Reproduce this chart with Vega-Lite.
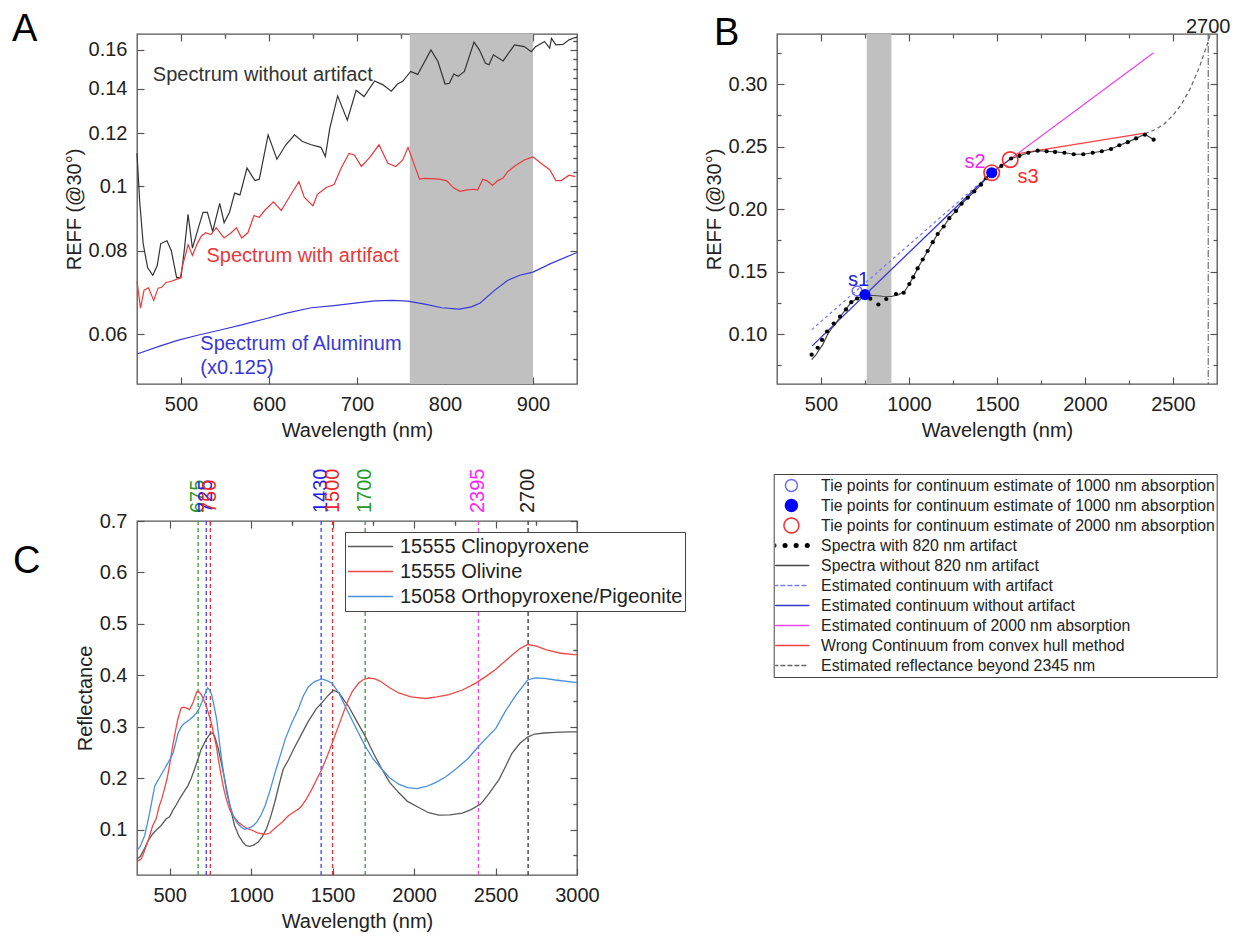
{
"$schema": "https://vega.github.io/schema/vega-lite/v6.json",
"autosize": {"type": "pad"},
"padding": {"left": 11, "top": 10, "right": 5, "bottom": 5},
"background": "white",
"bounds": "flush",
"columns": 2,
"spacing": {"row": 137, "column": 200},
"resolve": {"scale": {"color": "independent", "stroke": "independent", "fill": "independent"}, "legend": {"color": "independent", "stroke": "independent", "fill": "independent"}},
"config": {
 "view": {"stroke": "#555", "strokeWidth": 1.3},
 "font": "Liberation Sans",
 "text": {"font": "Liberation Sans"},
 "axis": {"labelFont": "Liberation Sans", "labelFontSize": 20, "labelColor": "#222", "titleFont": "Liberation Sans", "titleFontSize": 20, "titleFontWeight": "normal", "titleColor": "#222", "domain": false, "grid": false, "tickColor": "#555", "tickSize": -7, "tickWidth": 1.2, "labelPadding": 17, "labelFlush": false, "labelOverlap": false},
 "axisX": {"titlePadding": 6},
 "axisY": {"titlePadding": 4},
 "title": {"font": "Liberation Sans", "fontSize": 38, "fontWeight": "normal", "anchor": "start", "frame": "group", "color": "#000", "baseline": "bottom"},
 "legend": {"labelFont": "Liberation Sans", "labelColor": "#222", "labelLimit": 600}
},
"datasets": {
 "A": [
  {"s":"without","w":450,"v":0.112},{"s":"without","w":453,"v":0.095},{"s":"without","w":457,"v":0.082},{"s":"without","w":462,"v":0.0755},{"s":"without","w":468,"v":0.0735},{"s":"without","w":473,"v":0.076},{"s":"without","w":477,"v":0.082},{"s":"without","w":484,"v":0.0828},{"s":"without","w":489,"v":0.08},{"s":"without","w":495,"v":0.0729},{"s":"without","w":500,"v":0.0729},{"s":"without","w":504,"v":0.0807},{"s":"without","w":508,"v":0.0907},{"s":"without","w":513,"v":0.0807},{"s":"without","w":520,"v":0.0868},{"s":"without","w":525,"v":0.0913},{"s":"without","w":530,"v":0.0913},{"s":"without","w":536,"v":0.0855},{"s":"without","w":544,"v":0.0942},{"s":"without","w":549,"v":0.0881},{"s":"without","w":555,"v":0.0913},{"s":"without","w":561,"v":0.0976},{"s":"without","w":567,"v":0.097},{"s":"without","w":575,"v":0.1064},{"s":"without","w":584,"v":0.1019},{"s":"without","w":589,"v":0.1024},{"s":"without","w":599,"v":0.1193},{"s":"without","w":609,"v":0.1097},{"s":"without","w":619,"v":0.1152},{"s":"without","w":629,"v":0.1193},{"s":"without","w":638,"v":0.1166},{"s":"without","w":648,"v":0.1153},{"s":"without","w":659,"v":0.1143},{"s":"without","w":664,"v":0.1107},{"s":"without","w":669,"v":0.1219},{"s":"without","w":678,"v":0.1365},{"s":"without","w":689,"v":0.1255},{"s":"without","w":699,"v":0.1392},{"s":"without","w":708,"v":0.1362},{"s":"without","w":720,"v":0.1437},{"s":"without","w":729,"v":0.1419},{"s":"without","w":739,"v":0.1387},{"s":"without","w":746,"v":0.1422},{"s":"without","w":752,"v":0.1435},{"s":"without","w":761,"v":0.1485},{"s":"without","w":769,"v":0.147},{"s":"without","w":784,"v":0.16},{"s":"without","w":792,"v":0.1537},{"s":"without","w":800,"v":0.1422},{"s":"without","w":805,"v":0.1426},{"s":"without","w":810,"v":0.1472},{"s":"without","w":815,"v":0.146},{"s":"without","w":822,"v":0.1485},{"s":"without","w":833,"v":0.1643},{"s":"without","w":839,"v":0.16},{"s":"without","w":846,"v":0.1528},{"s":"without","w":850,"v":0.152},{"s":"without","w":855,"v":0.1573},{"s":"without","w":866,"v":0.154},{"s":"without","w":875,"v":0.16},{"s":"without","w":879,"v":0.1628},{"s":"without","w":890,"v":0.1618},{"s":"without","w":898,"v":0.159},{"s":"without","w":903,"v":0.1618},{"s":"without","w":913,"v":0.1647},{"s":"without","w":919,"v":0.161},{"s":"without","w":921,"v":0.1665},{"s":"without","w":926,"v":0.1628},{"s":"without","w":934,"v":0.163},{"s":"without","w":941,"v":0.1656},{"s":"without","w":947,"v":0.1668},{"s":"without","w":950,"v":0.1672},
  {"s":"with","w":450,"v":0.072},{"s":"with","w":454,"v":0.0656},{"s":"with","w":458,"v":0.0698},{"s":"with","w":463,"v":0.0704},{"s":"with","w":469,"v":0.0674},{"s":"with","w":474,"v":0.0703},{"s":"with","w":478,"v":0.0705},{"s":"with","w":483,"v":0.0717},{"s":"with","w":489,"v":0.072},{"s":"with","w":494,"v":0.0724},{"s":"with","w":499,"v":0.0728},{"s":"with","w":502,"v":0.0762},{"s":"with","w":506,"v":0.0797},{"s":"with","w":508,"v":0.0817},{"s":"with","w":513,"v":0.0787},{"s":"with","w":518,"v":0.0817},{"s":"with","w":523,"v":0.0841},{"s":"with","w":528,"v":0.0851},{"s":"with","w":534,"v":0.0846},{"s":"with","w":540,"v":0.0866},{"s":"with","w":549,"v":0.0836},{"s":"with","w":557,"v":0.0851},{"s":"with","w":563,"v":0.0866},{"s":"with","w":569,"v":0.0836},{"s":"with","w":576,"v":0.0851},{"s":"with","w":583,"v":0.0903},{"s":"with","w":589,"v":0.0898},{"s":"with","w":595,"v":0.0919},{"s":"with","w":605,"v":0.0947},{"s":"with","w":614,"v":0.0919},{"s":"with","w":625,"v":0.0972},{"s":"with","w":634,"v":0.1015},{"s":"with","w":640,"v":0.0962},{"s":"with","w":650,"v":0.0934},{"s":"with","w":655,"v":0.0972},{"s":"with","w":665,"v":0.0995},{"s":"with","w":674,"v":0.1005},{"s":"with","w":682,"v":0.1064},{"s":"with","w":691,"v":0.1119},{"s":"with","w":697,"v":0.1113},{"s":"with","w":705,"v":0.107},{"s":"with","w":715,"v":0.1106},{"s":"with","w":725,"v":0.1153},{"s":"with","w":735,"v":0.1082},{"s":"with","w":744,"v":0.107},{"s":"with","w":752,"v":0.1094},{"s":"with","w":758,"v":0.1143},{"s":"with","w":771,"v":0.1024},{"s":"with","w":777,"v":0.1027},{"s":"with","w":794,"v":0.1024},{"s":"with","w":802,"v":0.1018},{"s":"with","w":810,"v":0.0993},{"s":"with","w":817,"v":0.0982},{"s":"with","w":824,"v":0.0986},{"s":"with","w":833,"v":0.0989},{"s":"with","w":837,"v":0.0986},{"s":"with","w":843,"v":0.1024},{"s":"with","w":848,"v":0.1018},{"s":"with","w":854,"v":0.1002},{"s":"with","w":860,"v":0.1019},{"s":"with","w":866,"v":0.1028},{"s":"with","w":871,"v":0.105},{"s":"with","w":879,"v":0.1071},{"s":"with","w":890,"v":0.1094},{"s":"with","w":900,"v":0.1106},{"s":"with","w":909,"v":0.1082},{"s":"with","w":919,"v":0.1058},{"s":"with","w":926,"v":0.1019},{"s":"with","w":932,"v":0.1019},{"s":"with","w":941,"v":0.1038},{"s":"with","w":948,"v":0.1033},
  {"s":"al","w":450,"v":0.056},{"s":"al","w":475,"v":0.0575},{"s":"al","w":496,"v":0.0587},{"s":"al","w":520,"v":0.0598},{"s":"al","w":546,"v":0.0609},{"s":"al","w":570,"v":0.062},{"s":"al","w":595,"v":0.0632},{"s":"al","w":620,"v":0.0645},{"s":"al","w":648,"v":0.0657},{"s":"al","w":674,"v":0.0662},{"s":"al","w":700,"v":0.0668},{"s":"al","w":720,"v":0.0673},{"s":"al","w":740,"v":0.0674},{"s":"al","w":758,"v":0.0672},{"s":"al","w":780,"v":0.0664},{"s":"al","w":796,"v":0.0657},{"s":"al","w":816,"v":0.0654},{"s":"al","w":830,"v":0.0659},{"s":"al","w":840,"v":0.0668},{"s":"al","w":856,"v":0.0697},{"s":"al","w":871,"v":0.0722},{"s":"al","w":885,"v":0.0735},{"s":"al","w":900,"v":0.0743},{"s":"al","w":920,"v":0.0765},{"s":"al","w":946,"v":0.0791},{"s":"al","w":950,"v":0.0795}
 ],
 "Atext": [
  {"s":"without","w":468,"v":0.1465,"label":"Spectrum without artifact"},
  {"s":"with","w":529,"v":0.0786,"label":"Spectrum with artifact"},
  {"s":"al","w":522,"v":0.058,"label":"Spectrum of Aluminum"},
  {"s":"al","w":522,"v":0.0534,"label":"(x0.125)"}
 ],
 "B": [
  {"series":"Spectra with 820 nm artifact","w":447,"r":0.0835},{"series":"Spectra with 820 nm artifact","w":481,"r":0.089},{"series":"Spectra with 820 nm artifact","w":506,"r":0.0953},{"series":"Spectra with 820 nm artifact","w":534,"r":0.102},{"series":"Spectra with 820 nm artifact","w":572,"r":0.1084},{"series":"Spectra with 820 nm artifact","w":608,"r":0.114},{"series":"Spectra with 820 nm artifact","w":642,"r":0.1197},{"series":"Spectra with 820 nm artifact","w":672,"r":0.1255},{"series":"Spectra with 820 nm artifact","w":705,"r":0.1285},{"series":"Spectra with 820 nm artifact","w":780,"r":0.1283},{"series":"Spectra with 820 nm artifact","w":826,"r":0.1236},{"series":"Spectra with 820 nm artifact","w":871,"r":0.128},{"series":"Spectra with 820 nm artifact","w":926,"r":0.132},{"series":"Spectra with 820 nm artifact","w":970,"r":0.133},{"series":"Spectra with 820 nm artifact","w":1002,"r":0.14},{"series":"Spectra with 820 nm artifact","w":1024,"r":0.1455},{"series":"Spectra with 820 nm artifact","w":1049,"r":0.1525},{"series":"Spectra with 820 nm artifact","w":1078,"r":0.1596},{"series":"Spectra with 820 nm artifact","w":1106,"r":0.1664},{"series":"Spectra with 820 nm artifact","w":1135,"r":0.1735},{"series":"Spectra with 820 nm artifact","w":1163,"r":0.18},{"series":"Spectra with 820 nm artifact","w":1197,"r":0.186},{"series":"Spectra with 820 nm artifact","w":1229,"r":0.1927},{"series":"Spectra with 820 nm artifact","w":1267,"r":0.1985},{"series":"Spectra with 820 nm artifact","w":1299,"r":0.2042},{"series":"Spectra with 820 nm artifact","w":1334,"r":0.209},{"series":"Spectra with 820 nm artifact","w":1371,"r":0.214},{"series":"Spectra with 820 nm artifact","w":1409,"r":0.2195},{"series":"Spectra with 820 nm artifact","w":1438,"r":0.2246},{"series":"Spectra with 820 nm artifact","w":1470,"r":0.229},{"series":"Spectra with 820 nm artifact","w":1525,"r":0.2345},{"series":"Spectra with 820 nm artifact","w":1580,"r":0.2404},{"series":"Spectra with 820 nm artifact","w":1627,"r":0.2425},{"series":"Spectra with 820 nm artifact","w":1678,"r":0.245},{"series":"Spectra with 820 nm artifact","w":1731,"r":0.2467},{"series":"Spectra with 820 nm artifact","w":1782,"r":0.2462},{"series":"Spectra with 820 nm artifact","w":1830,"r":0.2457},{"series":"Spectra with 820 nm artifact","w":1883,"r":0.245},{"series":"Spectra with 820 nm artifact","w":1936,"r":0.2438},{"series":"Spectra with 820 nm artifact","w":1990,"r":0.2438},{"series":"Spectra with 820 nm artifact","w":2044,"r":0.245},{"series":"Spectra with 820 nm artifact","w":2095,"r":0.2462},{"series":"Spectra with 820 nm artifact","w":2148,"r":0.248},{"series":"Spectra with 820 nm artifact","w":2195,"r":0.251},{"series":"Spectra with 820 nm artifact","w":2243,"r":0.2535},{"series":"Spectra with 820 nm artifact","w":2290,"r":0.2565},{"series":"Spectra with 820 nm artifact","w":2340,"r":0.2595},{"series":"Spectra with 820 nm artifact","w":2390,"r":0.2555},
  {"series":"Spectra without 820 nm artifact","w":447,"r":0.0795},{"series":"Spectra without 820 nm artifact","w":470,"r":0.083},{"series":"Spectra without 820 nm artifact","w":490,"r":0.0875},{"series":"Spectra without 820 nm artifact","w":510,"r":0.0915},{"series":"Spectra without 820 nm artifact","w":535,"r":0.099},{"series":"Spectra without 820 nm artifact","w":560,"r":0.1045},{"series":"Spectra without 820 nm artifact","w":580,"r":0.1075},{"series":"Spectra without 820 nm artifact","w":610,"r":0.114},{"series":"Spectra without 820 nm artifact","w":640,"r":0.1195},{"series":"Spectra without 820 nm artifact","w":670,"r":0.125},{"series":"Spectra without 820 nm artifact","w":700,"r":0.128},{"series":"Spectra without 820 nm artifact","w":750,"r":0.131},{"series":"Spectra without 820 nm artifact","w":800,"r":0.1308},{"series":"Spectra without 820 nm artifact","w":850,"r":0.1302},{"series":"Spectra without 820 nm artifact","w":900,"r":0.13},{"series":"Spectra without 820 nm artifact","w":940,"r":0.1315},{"series":"Spectra without 820 nm artifact","w":975,"r":0.134},{"series":"Spectra without 820 nm artifact","w":1002,"r":0.14},{"series":"Spectra without 820 nm artifact","w":1024,"r":0.1455},{"series":"Spectra without 820 nm artifact","w":1049,"r":0.1525},{"series":"Spectra without 820 nm artifact","w":1078,"r":0.1596},{"series":"Spectra without 820 nm artifact","w":1106,"r":0.1664},{"series":"Spectra without 820 nm artifact","w":1135,"r":0.1735},{"series":"Spectra without 820 nm artifact","w":1163,"r":0.18},{"series":"Spectra without 820 nm artifact","w":1197,"r":0.186},{"series":"Spectra without 820 nm artifact","w":1229,"r":0.1927},{"series":"Spectra without 820 nm artifact","w":1267,"r":0.1985},{"series":"Spectra without 820 nm artifact","w":1299,"r":0.2042},{"series":"Spectra without 820 nm artifact","w":1334,"r":0.209},{"series":"Spectra without 820 nm artifact","w":1371,"r":0.214},{"series":"Spectra without 820 nm artifact","w":1409,"r":0.2195},{"series":"Spectra without 820 nm artifact","w":1438,"r":0.2246},{"series":"Spectra without 820 nm artifact","w":1470,"r":0.229},{"series":"Spectra without 820 nm artifact","w":1525,"r":0.2345},{"series":"Spectra without 820 nm artifact","w":1580,"r":0.2404},{"series":"Spectra without 820 nm artifact","w":1627,"r":0.2425},{"series":"Spectra without 820 nm artifact","w":1678,"r":0.245},{"series":"Spectra without 820 nm artifact","w":1731,"r":0.2467},{"series":"Spectra without 820 nm artifact","w":1782,"r":0.2462},{"series":"Spectra without 820 nm artifact","w":1830,"r":0.2457},{"series":"Spectra without 820 nm artifact","w":1883,"r":0.245},{"series":"Spectra without 820 nm artifact","w":1936,"r":0.2438},{"series":"Spectra without 820 nm artifact","w":1990,"r":0.2438},{"series":"Spectra without 820 nm artifact","w":2044,"r":0.245},{"series":"Spectra without 820 nm artifact","w":2095,"r":0.2462},{"series":"Spectra without 820 nm artifact","w":2148,"r":0.248},{"series":"Spectra without 820 nm artifact","w":2195,"r":0.251},{"series":"Spectra without 820 nm artifact","w":2243,"r":0.2535},{"series":"Spectra without 820 nm artifact","w":2290,"r":0.2565},{"series":"Spectra without 820 nm artifact","w":2340,"r":0.2598},{"series":"Spectra without 820 nm artifact","w":2390,"r":0.2555},
  {"series":"Estimated continuum with artifact","w":447,"r":0.1035},{"series":"Estimated continuum with artifact","w":1470,"r":0.229},
  {"series":"Estimated continuum without artifact","w":450,"r":0.0905},{"series":"Estimated continuum without artifact","w":1470,"r":0.229},
  {"series":"Estimated continuum of 2000 nm absorption","w":1470,"r":0.229},{"series":"Estimated continuum of 2000 nm absorption","w":2390,"r":0.325},
  {"series":"Wrong Continuum from convex hull method","w":1620,"r":0.2443},{"series":"Wrong Continuum from convex hull method","w":2330,"r":0.2605},
  {"series":"Estimated reflectance beyond 2345 nm","w":2340,"r":0.2602},{"series":"Estimated reflectance beyond 2345 nm","w":2400,"r":0.2635},{"series":"Estimated reflectance beyond 2345 nm","w":2450,"r":0.268},{"series":"Estimated reflectance beyond 2345 nm","w":2500,"r":0.275},{"series":"Estimated reflectance beyond 2345 nm","w":2550,"r":0.284},{"series":"Estimated reflectance beyond 2345 nm","w":2600,"r":0.297},{"series":"Estimated reflectance beyond 2345 nm","w":2650,"r":0.3135},{"series":"Estimated reflectance beyond 2345 nm","w":2700,"r":0.334},{"series":"Estimated reflectance beyond 2345 nm","w":2725,"r":0.346},
  {"series":"Tie points for continuum estimate of 1000 nm absorption","w":705,"r":0.1345},
  {"series":"Tie points for continuum estimate of 1000 nm absorption ","w":750,"r":0.1315},{"series":"Tie points for continuum estimate of 1000 nm absorption ","w":1470,"r":0.229},
  {"series":"Tie points for continuum estimate of 2000 nm absorption","w":1470,"r":0.229},{"series":"Tie points for continuum estimate of 2000 nm absorption","w":1575,"r":0.2395}
 ],
 "C": [
  {"s":"15555 Clinopyroxene","w":300,"r":0.043},{"s":"15555 Clinopyroxene","w":320,"r":0.048},{"s":"15555 Clinopyroxene","w":345,"r":0.0627},{"s":"15555 Clinopyroxene","w":370,"r":0.08},{"s":"15555 Clinopyroxene","w":396,"r":0.0917},{"s":"15555 Clinopyroxene","w":420,"r":0.1},{"s":"15555 Clinopyroxene","w":447,"r":0.1078},{"s":"15555 Clinopyroxene","w":478,"r":0.1207},{"s":"15555 Clinopyroxene","w":500,"r":0.125},{"s":"15555 Clinopyroxene","w":519,"r":0.137},{"s":"15555 Clinopyroxene","w":540,"r":0.148},{"s":"15555 Clinopyroxene","w":560,"r":0.1595},{"s":"15555 Clinopyroxene","w":585,"r":0.172},{"s":"15555 Clinopyroxene","w":612,"r":0.1852},{"s":"15555 Clinopyroxene","w":633,"r":0.2},{"s":"15555 Clinopyroxene","w":653,"r":0.2175},{"s":"15555 Clinopyroxene","w":675,"r":0.238},{"s":"15555 Clinopyroxene","w":694,"r":0.2562},{"s":"15555 Clinopyroxene","w":725,"r":0.2756},{"s":"15555 Clinopyroxene","w":750,"r":0.287},{"s":"15555 Clinopyroxene","w":762,"r":0.288},{"s":"15555 Clinopyroxene","w":776,"r":0.282},{"s":"15555 Clinopyroxene","w":797,"r":0.26},{"s":"15555 Clinopyroxene","w":817,"r":0.2303},{"s":"15555 Clinopyroxene","w":838,"r":0.198},{"s":"15555 Clinopyroxene","w":858,"r":0.1658},{"s":"15555 Clinopyroxene","w":878,"r":0.135},{"s":"15555 Clinopyroxene","w":899,"r":0.1078},{"s":"15555 Clinopyroxene","w":925,"r":0.088},{"s":"15555 Clinopyroxene","w":950,"r":0.0755},{"s":"15555 Clinopyroxene","w":970,"r":0.069},{"s":"15555 Clinopyroxene","w":992,"r":0.0677},{"s":"15555 Clinopyroxene","w":1015,"r":0.07},{"s":"15555 Clinopyroxene","w":1043,"r":0.0755},{"s":"15555 Clinopyroxene","w":1070,"r":0.087},{"s":"15555 Clinopyroxene","w":1094,"r":0.1014},{"s":"15555 Clinopyroxene","w":1120,"r":0.125},{"s":"15555 Clinopyroxene","w":1145,"r":0.1529},{"s":"15555 Clinopyroxene","w":1170,"r":0.185},{"s":"15555 Clinopyroxene","w":1197,"r":0.2175},{"s":"15555 Clinopyroxene","w":1230,"r":0.236},{"s":"15555 Clinopyroxene","w":1260,"r":0.256},{"s":"15555 Clinopyroxene","w":1300,"r":0.28},{"s":"15555 Clinopyroxene","w":1350,"r":0.31},{"s":"15555 Clinopyroxene","w":1400,"r":0.335},{"s":"15555 Clinopyroxene","w":1434,"r":0.3464},{"s":"15555 Clinopyroxene","w":1470,"r":0.36},{"s":"15555 Clinopyroxene","w":1506,"r":0.371},{"s":"15555 Clinopyroxene","w":1540,"r":0.366},{"s":"15555 Clinopyroxene","w":1570,"r":0.352},{"s":"15555 Clinopyroxene","w":1598,"r":0.34},{"s":"15555 Clinopyroxene","w":1650,"r":0.31},{"s":"15555 Clinopyroxene","w":1700,"r":0.282},{"s":"15555 Clinopyroxene","w":1750,"r":0.249},{"s":"15555 Clinopyroxene","w":1803,"r":0.2175},{"s":"15555 Clinopyroxene","w":1850,"r":0.192},{"s":"15555 Clinopyroxene","w":1906,"r":0.1722},{"s":"15555 Clinopyroxene","w":1960,"r":0.155},{"s":"15555 Clinopyroxene","w":2029,"r":0.1432},{"s":"15555 Clinopyroxene","w":2090,"r":0.133},{"s":"15555 Clinopyroxene","w":2152,"r":0.1285},{"s":"15555 Clinopyroxene","w":2220,"r":0.129},{"s":"15555 Clinopyroxene","w":2296,"r":0.1324},{"s":"15555 Clinopyroxene","w":2350,"r":0.139},{"s":"15555 Clinopyroxene","w":2409,"r":0.1498},{"s":"15555 Clinopyroxene","w":2460,"r":0.17},{"s":"15555 Clinopyroxene","w":2522,"r":0.198},{"s":"15555 Clinopyroxene","w":2560,"r":0.222},{"s":"15555 Clinopyroxene","w":2600,"r":0.248},{"s":"15555 Clinopyroxene","w":2650,"r":0.268},{"s":"15555 Clinopyroxene","w":2697,"r":0.28},{"s":"15555 Clinopyroxene","w":2740,"r":0.286},{"s":"15555 Clinopyroxene","w":2800,"r":0.288},{"s":"15555 Clinopyroxene","w":2867,"r":0.289},{"s":"15555 Clinopyroxene","w":2950,"r":0.29},{"s":"15555 Clinopyroxene","w":3000,"r":0.29},
  {"s":"15555 Olivine","w":300,"r":0.038},{"s":"15555 Olivine","w":326,"r":0.0433},{"s":"15555 Olivine","w":343,"r":0.056},{"s":"15555 Olivine","w":358,"r":0.07},{"s":"15555 Olivine","w":372,"r":0.082},{"s":"15555 Olivine","w":396,"r":0.1078},{"s":"15555 Olivine","w":417,"r":0.1207},{"s":"15555 Olivine","w":437,"r":0.1465},{"s":"15555 Olivine","w":452,"r":0.16},{"s":"15555 Olivine","w":468,"r":0.1788},{"s":"15555 Olivine","w":485,"r":0.2},{"s":"15555 Olivine","w":499,"r":0.2239},{"s":"15555 Olivine","w":515,"r":0.255},{"s":"15555 Olivine","w":530,"r":0.282},{"s":"15555 Olivine","w":550,"r":0.3143},{"s":"15555 Olivine","w":571,"r":0.3367},{"s":"15555 Olivine","w":585,"r":0.338},{"s":"15555 Olivine","w":601,"r":0.3367},{"s":"15555 Olivine","w":622,"r":0.3336},{"s":"15555 Olivine","w":643,"r":0.3464},{"s":"15555 Olivine","w":660,"r":0.362},{"s":"15555 Olivine","w":669,"r":0.369},{"s":"15555 Olivine","w":680,"r":0.368},{"s":"15555 Olivine","w":694,"r":0.3626},{"s":"15555 Olivine","w":710,"r":0.352},{"s":"15555 Olivine","w":725,"r":0.34},{"s":"15555 Olivine","w":740,"r":0.325},{"s":"15555 Olivine","w":756,"r":0.3077},{"s":"15555 Olivine","w":771,"r":0.285},{"s":"15555 Olivine","w":787,"r":0.2626},{"s":"15555 Olivine","w":800,"r":0.235},{"s":"15555 Olivine","w":817,"r":0.2046},{"s":"15555 Olivine","w":832,"r":0.18},{"s":"15555 Olivine","w":848,"r":0.1595},{"s":"15555 Olivine","w":868,"r":0.14},{"s":"15555 Olivine","w":889,"r":0.1271},{"s":"15555 Olivine","w":920,"r":0.115},{"s":"15555 Olivine","w":950,"r":0.1078},{"s":"15555 Olivine","w":980,"r":0.102},{"s":"15555 Olivine","w":1012,"r":0.098},{"s":"15555 Olivine","w":1040,"r":0.094},{"s":"15555 Olivine","w":1074,"r":0.0917},{"s":"15555 Olivine","w":1095,"r":0.0915},{"s":"15555 Olivine","w":1115,"r":0.0936},{"s":"15555 Olivine","w":1150,"r":0.104},{"s":"15555 Olivine","w":1188,"r":0.1142},{"s":"15555 Olivine","w":1229,"r":0.127},{"s":"15555 Olivine","w":1260,"r":0.134},{"s":"15555 Olivine","w":1291,"r":0.14},{"s":"15555 Olivine","w":1311,"r":0.1465},{"s":"15555 Olivine","w":1340,"r":0.16},{"s":"15555 Olivine","w":1373,"r":0.179},{"s":"15555 Olivine","w":1400,"r":0.196},{"s":"15555 Olivine","w":1434,"r":0.2175},{"s":"15555 Olivine","w":1470,"r":0.245},{"s":"15555 Olivine","w":1506,"r":0.2756},{"s":"15555 Olivine","w":1550,"r":0.313},{"s":"15555 Olivine","w":1588,"r":0.3464},{"s":"15555 Olivine","w":1620,"r":0.368},{"s":"15555 Olivine","w":1660,"r":0.385},{"s":"15555 Olivine","w":1690,"r":0.392},{"s":"15555 Olivine","w":1722,"r":0.3948},{"s":"15555 Olivine","w":1760,"r":0.393},{"s":"15555 Olivine","w":1794,"r":0.3884},{"s":"15555 Olivine","w":1850,"r":0.376},{"s":"15555 Olivine","w":1906,"r":0.3658},{"s":"15555 Olivine","w":1980,"r":0.358},{"s":"15555 Olivine","w":2070,"r":0.355},{"s":"15555 Olivine","w":2140,"r":0.358},{"s":"15555 Olivine","w":2214,"r":0.3627},{"s":"15555 Olivine","w":2300,"r":0.372},{"s":"15555 Olivine","w":2378,"r":0.385},{"s":"15555 Olivine","w":2450,"r":0.4},{"s":"15555 Olivine","w":2502,"r":0.412},{"s":"15555 Olivine","w":2560,"r":0.428},{"s":"15555 Olivine","w":2600,"r":0.439},{"s":"15555 Olivine","w":2650,"r":0.452},{"s":"15555 Olivine","w":2697,"r":0.46},{"s":"15555 Olivine","w":2750,"r":0.457},{"s":"15555 Olivine","w":2818,"r":0.449},{"s":"15555 Olivine","w":2900,"r":0.443},{"s":"15555 Olivine","w":3000,"r":0.44},
  {"s":"15058 Orthopyroxene/Pigeonite","w":300,"r":0.0594},{"s":"15058 Orthopyroxene/Pigeonite","w":320,"r":0.068},{"s":"15058 Orthopyroxene/Pigeonite","w":347,"r":0.0884},{"s":"15058 Orthopyroxene/Pigeonite","w":362,"r":0.11},{"s":"15058 Orthopyroxene/Pigeonite","w":378,"r":0.1335},{"s":"15058 Orthopyroxene/Pigeonite","w":395,"r":0.162},{"s":"15058 Orthopyroxene/Pigeonite","w":409,"r":0.1852},{"s":"15058 Orthopyroxene/Pigeonite","w":430,"r":0.197},{"s":"15058 Orthopyroxene/Pigeonite","w":450,"r":0.2078},{"s":"15058 Orthopyroxene/Pigeonite","w":470,"r":0.219},{"s":"15058 Orthopyroxene/Pigeonite","w":491,"r":0.2303},{"s":"15058 Orthopyroxene/Pigeonite","w":508,"r":0.24},{"s":"15058 Orthopyroxene/Pigeonite","w":522,"r":0.2497},{"s":"15058 Orthopyroxene/Pigeonite","w":538,"r":0.27},{"s":"15058 Orthopyroxene/Pigeonite","w":553,"r":0.2884},{"s":"15058 Orthopyroxene/Pigeonite","w":568,"r":0.298},{"s":"15058 Orthopyroxene/Pigeonite","w":583,"r":0.3046},{"s":"15058 Orthopyroxene/Pigeonite","w":604,"r":0.31},{"s":"15058 Orthopyroxene/Pigeonite","w":624,"r":0.3143},{"s":"15058 Orthopyroxene/Pigeonite","w":645,"r":0.32},{"s":"15058 Orthopyroxene/Pigeonite","w":665,"r":0.327},{"s":"15058 Orthopyroxene/Pigeonite","w":681,"r":0.335},{"s":"15058 Orthopyroxene/Pigeonite","w":696,"r":0.3464},{"s":"15058 Orthopyroxene/Pigeonite","w":715,"r":0.362},{"s":"15058 Orthopyroxene/Pigeonite","w":733,"r":0.3755},{"s":"15058 Orthopyroxene/Pigeonite","w":745,"r":0.372},{"s":"15058 Orthopyroxene/Pigeonite","w":758,"r":0.3627},{"s":"15058 Orthopyroxene/Pigeonite","w":773,"r":0.34},{"s":"15058 Orthopyroxene/Pigeonite","w":789,"r":0.3143},{"s":"15058 Orthopyroxene/Pigeonite","w":804,"r":0.275},{"s":"15058 Orthopyroxene/Pigeonite","w":819,"r":0.2368},{"s":"15058 Orthopyroxene/Pigeonite","w":835,"r":0.203},{"s":"15058 Orthopyroxene/Pigeonite","w":850,"r":0.1722},{"s":"15058 Orthopyroxene/Pigeonite","w":870,"r":0.147},{"s":"15058 Orthopyroxene/Pigeonite","w":891,"r":0.127},{"s":"15058 Orthopyroxene/Pigeonite","w":915,"r":0.113},{"s":"15058 Orthopyroxene/Pigeonite","w":942,"r":0.1045},{"s":"15058 Orthopyroxene/Pigeonite","w":962,"r":0.101},{"s":"15058 Orthopyroxene/Pigeonite","w":983,"r":0.1026},{"s":"15058 Orthopyroxene/Pigeonite","w":1010,"r":0.107},{"s":"15058 Orthopyroxene/Pigeonite","w":1034,"r":0.1142},{"s":"15058 Orthopyroxene/Pigeonite","w":1060,"r":0.128},{"s":"15058 Orthopyroxene/Pigeonite","w":1086,"r":0.1465},{"s":"15058 Orthopyroxene/Pigeonite","w":1115,"r":0.175},{"s":"15058 Orthopyroxene/Pigeonite","w":1147,"r":0.211},{"s":"15058 Orthopyroxene/Pigeonite","w":1180,"r":0.245},{"s":"15058 Orthopyroxene/Pigeonite","w":1209,"r":0.2756},{"s":"15058 Orthopyroxene/Pigeonite","w":1250,"r":0.308},{"s":"15058 Orthopyroxene/Pigeonite","w":1291,"r":0.335},{"s":"15058 Orthopyroxene/Pigeonite","w":1320,"r":0.36},{"s":"15058 Orthopyroxene/Pigeonite","w":1352,"r":0.378},{"s":"15058 Orthopyroxene/Pigeonite","w":1390,"r":0.388},{"s":"15058 Orthopyroxene/Pigeonite","w":1434,"r":0.393},{"s":"15058 Orthopyroxene/Pigeonite","w":1465,"r":0.39},{"s":"15058 Orthopyroxene/Pigeonite","w":1496,"r":0.385},{"s":"15058 Orthopyroxene/Pigeonite","w":1540,"r":0.365},{"s":"15058 Orthopyroxene/Pigeonite","w":1578,"r":0.34},{"s":"15058 Orthopyroxene/Pigeonite","w":1640,"r":0.3},{"s":"15058 Orthopyroxene/Pigeonite","w":1700,"r":0.2626},{"s":"15058 Orthopyroxene/Pigeonite","w":1750,"r":0.237},{"s":"15058 Orthopyroxene/Pigeonite","w":1803,"r":0.2175},{"s":"15058 Orthopyroxene/Pigeonite","w":1850,"r":0.201},{"s":"15058 Orthopyroxene/Pigeonite","w":1906,"r":0.1885},{"s":"15058 Orthopyroxene/Pigeonite","w":1960,"r":0.182},{"s":"15058 Orthopyroxene/Pigeonite","w":2019,"r":0.18},{"s":"15058 Orthopyroxene/Pigeonite","w":2075,"r":0.184},{"s":"15058 Orthopyroxene/Pigeonite","w":2132,"r":0.1916},{"s":"15058 Orthopyroxene/Pigeonite","w":2195,"r":0.203},{"s":"15058 Orthopyroxene/Pigeonite","w":2255,"r":0.2175},{"s":"15058 Orthopyroxene/Pigeonite","w":2330,"r":0.238},{"s":"15058 Orthopyroxene/Pigeonite","w":2398,"r":0.2626},{"s":"15058 Orthopyroxene/Pigeonite","w":2450,"r":0.28},{"s":"15058 Orthopyroxene/Pigeonite","w":2502,"r":0.297},{"s":"15058 Orthopyroxene/Pigeonite","w":2560,"r":0.33},{"s":"15058 Orthopyroxene/Pigeonite","w":2624,"r":0.361},{"s":"15058 Orthopyroxene/Pigeonite","w":2697,"r":0.391},{"s":"15058 Orthopyroxene/Pigeonite","w":2745,"r":0.395},{"s":"15058 Orthopyroxene/Pigeonite","w":2800,"r":0.394},{"s":"15058 Orthopyroxene/Pigeonite","w":2867,"r":0.391},{"s":"15058 Orthopyroxene/Pigeonite","w":3000,"r":0.386}
 ],
 "Cmark": [
  {"w":675,"lab":"675"},{"w":725,"lab":"725"},{"w":750,"lab":"750"},{"w":1430,"lab":"1430"},{"w":1500,"lab":"1500"},{"w":1700,"lab":"1700"},{"w":2395,"lab":"2395"},{"w":2700,"lab":"2700"}
 ]
},
"concat": [
 {
  "width": 440, "height": 350,
  "title": {"text": "A", "dx": -125, "offset": -16},
  "resolve": {"axis": {"x": "independent", "y": "independent"}},
  "layer": [
   {"data": {"values": [{"a": 760, "b": 900}]}, "mark": {"type": "rect", "color": "#c0c0c0"},
    "encoding": {"x": {"field": "a", "type": "quantitative", "scale": {"domain": [450, 950], "nice": false, "zero": false}, "axis": null}, "x2": {"field": "b"}}},
   {"data": {"name": "A"}, "transform": [{"filter": {"field": "s", "equal": "without"}}], "mark": {"type": "line", "strokeWidth": 1.2},
    "encoding": {
     "x": {"field": "w", "type": "quantitative", "scale": {"domain": [450, 950], "nice": false, "zero": false}, "axis": {"values": [500, 600, 700, 800, 900], "title": "Wavelength (nm)"}},
     "y": {"field": "v", "type": "quantitative", "scale": {"type": "log", "domain": [0.0505, 0.169], "nice": false}, "axis": {"values": [0.06, 0.08, 0.1, 0.12, 0.14, 0.16], "format": "~g", "title": "REFF (@30°)"}},
     "color": {"field": "s", "type": "nominal", "scale": {"domain": ["without", "with", "al"], "range": ["#333333", "#e8383c", "#3838d8"]}, "legend": null}}},
   {"data": {"name": "A"}, "transform": [{"filter": {"field": "s", "equal": "with"}}], "mark": {"type": "line", "strokeWidth": 1.2},
    "encoding": {
     "x": {"field": "w", "type": "quantitative", "scale": {"domain": [450, 950], "nice": false, "zero": false}, "axis": {"values": [550, 650, 750, 850], "labels": false, "title": null, "tickSize": -4}},
     "y": {"field": "v", "type": "quantitative", "scale": {"type": "log", "domain": [0.0505, 0.169], "nice": false}, "axis": {"values": [0.055, 0.065, 0.07, 0.075, 0.085, 0.09, 0.095, 0.105, 0.11, 0.115, 0.125, 0.13, 0.135, 0.145, 0.15, 0.155, 0.165], "labels": false, "title": null, "tickSize": -4}},
     "color": {"field": "s", "type": "nominal", "scale": {"domain": ["without", "with", "al"], "range": ["#333333", "#e8383c", "#3838d8"]}, "legend": null}}},
   {"data": {"name": "A"}, "transform": [{"filter": {"field": "s", "equal": "al"}}], "mark": {"type": "line", "strokeWidth": 1.2},
    "encoding": {
     "x": {"field": "w", "type": "quantitative", "scale": {"domain": [450, 950], "nice": false, "zero": false}, "axis": {"orient": "top", "values": [550, 650, 750, 850], "labels": false, "title": null, "tickSize": -4}},
     "y": {"field": "v", "type": "quantitative", "scale": {"type": "log", "domain": [0.0505, 0.169], "nice": false}, "axis": {"orient": "right", "values": [0.055, 0.065, 0.07, 0.075, 0.085, 0.09, 0.095, 0.105, 0.11, 0.115, 0.125, 0.13, 0.135, 0.145, 0.15, 0.155, 0.165], "labels": false, "title": null, "tickSize": -4}},
     "color": {"field": "s", "type": "nominal", "scale": {"domain": ["without", "with", "al"], "range": ["#333333", "#e8383c", "#3838d8"]}, "legend": null}}},
   {"data": {"name": "Atext"}, "mark": {"type": "text", "align": "left", "baseline": "middle", "fontSize": 20},
    "encoding": {
     "x": {"field": "w", "type": "quantitative", "scale": {"domain": [450, 950], "nice": false, "zero": false}, "axis": {"orient": "top", "values": [500, 600, 700, 800, 900], "labels": false, "title": null}},
     "y": {"field": "v", "type": "quantitative", "scale": {"type": "log", "domain": [0.0505, 0.169], "nice": false}, "axis": {"orient": "right", "values": [0.06, 0.08, 0.1, 0.12, 0.14, 0.16], "labels": false, "title": null}},
     "text": {"field": "label"},
     "color": {"field": "s", "type": "nominal", "scale": {"domain": ["without", "with", "al"], "range": ["#333333", "#e8383c", "#3838d8"]}, "legend": null}}}
  ]
 },
 {
  "width": 440, "height": 350,
  "title": {"text": "B", "dx": -63, "offset": -36},
  "resolve": {"axis": {"x": "independent", "y": "independent"}},
  "encoding": {
   "color": {"field": "series", "type": "nominal",
    "scale": {"domain": ["Tie points for continuum estimate of 1000 nm absorption", "Tie points for continuum estimate of 1000 nm absorption ", "Tie points for continuum estimate of 2000 nm absorption", "Spectra with 820 nm artifact", "Spectra without 820 nm artifact", "Estimated continuum with artifact", "Estimated continuum without artifact", "Estimated continuum of 2000 nm absorption", "Wrong Continuum from convex hull method", "Estimated reflectance beyond 2345 nm"],
              "range": ["#6a6aff", "#0000ff", "#ff2a2a", "#000000", "#444444", "#7b7bff", "#3535d5", "#ee44ee", "#ff4040", "#666666"]},
    "legend": {"orient": "none", "legendX": -3.3, "legendY": 440, "title": null, "labelFontSize": 15.8, "clipHeight": 20, "symbolSize": 400, "padding": 1.5, "strokeColor": "#444", "fillColor": "white", "labelOffset": 21.8, "rowPadding": 0, "symbolOffset": 8.3, "labelLimit": 600,
     "encode": {"symbols": {"update": {
      "shape": {"signal": "datum.index < 3 ? 'circle' : 'M-1.75,0L1.75,0'"},
      "size": {"signal": "datum.index < 2 ? 140 : (datum.index == 2 ? 220 : 400)"},
      "fill": {"signal": "datum.index == 1 ? '#0000ff' : 'transparent'"},
      "fillOpacity": {"signal": "datum.index == 1 ? 1 : 0"},
      "stroke": {"signal": "['#6a6aff','#0000ff','#ff2a2a','#000000','#444444','#7b7bff','#3535d5','#ee44ee','#ff4040','#666666'][datum.index]"},
      "strokeWidth": {"signal": "datum.index == 3 ? 5 : (datum.index < 3 ? 1.5 : 1.3)"},
      "strokeDash": {"signal": "datum.index == 3 ? [0.1, 11] : ((datum.index == 5 || datum.index == 9) ? [4, 3] : [1, 0])"},
      "strokeCap": {"value": "round"},
      "opacity": {"value": 1}
     }}}}}
  },
  "layer": [
   {"data": {"values": [{"a": 760, "b": 900}]}, "mark": {"type": "rect"},
    "encoding": {"x": {"field": "a", "type": "quantitative", "scale": {"domain": [250, 2750], "nice": false, "zero": false}, "axis": null}, "x2": {"field": "b"}, "color": {"value": "#c0c0c0"}}},
   {"data": {"values": [{"w": 2700}]}, "mark": {"type": "rule", "strokeDash": [7, 2, 1, 2], "strokeWidth": 1},
    "encoding": {"x": {"field": "w", "type": "quantitative", "scale": {"domain": [250, 2750], "nice": false, "zero": false}, "axis": null}, "color": {"value": "#555555"}}},
   {"data": {"name": "B"}, "transform": [{"filter": {"field": "series", "equal": "Estimated reflectance beyond 2345 nm"}}], "mark": {"type": "line", "strokeDash": [4, 3], "strokeWidth": 1.2, "clip": true},
    "encoding": {"x": {"field": "w", "type": "quantitative", "scale": {"domain": [250, 2750], "nice": false, "zero": false}, "axis": {"values": [750, 1250, 1750, 2250], "labels": false, "title": null, "tickSize": -4}}, "y": {"field": "r", "type": "quantitative", "scale": {"domain": [0.06, 0.34], "nice": false, "zero": false}, "axis": {"values": [0.075, 0.125, 0.175, 0.225, 0.275, 0.325], "labels": false, "title": null, "tickSize": -4}}}},
   {"data": {"name": "B"}, "transform": [{"filter": {"field": "series", "equal": "Estimated continuum of 2000 nm absorption"}}], "mark": {"type": "line", "strokeWidth": 1.3},
    "encoding": {"x": {"field": "w", "type": "quantitative", "scale": {"domain": [250, 2750], "nice": false, "zero": false}, "axis": {"orient": "top", "values": [750, 1250, 1750, 2250], "labels": false, "title": null, "tickSize": -4}}, "y": {"field": "r", "type": "quantitative", "scale": {"domain": [0.06, 0.34], "nice": false, "zero": false}, "axis": {"orient": "right", "values": [0.075, 0.125, 0.175, 0.225, 0.275, 0.325], "labels": false, "title": null, "tickSize": -4}}}},
   {"data": {"name": "B"}, "transform": [{"filter": {"field": "series", "equal": "Wrong Continuum from convex hull method"}}], "mark": {"type": "line", "strokeWidth": 1.3},
    "encoding": {"x": {"field": "w", "type": "quantitative", "scale": {"domain": [250, 2750], "nice": false, "zero": false}, "axis": null}, "y": {"field": "r", "type": "quantitative", "scale": {"domain": [0.06, 0.34], "nice": false, "zero": false}, "axis": null}}},
   {"data": {"name": "B"}, "transform": [{"filter": {"field": "series", "equal": "Estimated continuum with artifact"}}], "mark": {"type": "line", "strokeDash": [3, 3], "strokeWidth": 1.3},
    "encoding": {"x": {"field": "w", "type": "quantitative", "scale": {"domain": [250, 2750], "nice": false, "zero": false}, "axis": null}, "y": {"field": "r", "type": "quantitative", "scale": {"domain": [0.06, 0.34], "nice": false, "zero": false}, "axis": null}}},
   {"data": {"name": "B"}, "transform": [{"filter": {"field": "series", "equal": "Estimated continuum without artifact"}}], "mark": {"type": "line", "strokeWidth": 1.3},
    "encoding": {"x": {"field": "w", "type": "quantitative", "scale": {"domain": [250, 2750], "nice": false, "zero": false}, "axis": null}, "y": {"field": "r", "type": "quantitative", "scale": {"domain": [0.06, 0.34], "nice": false, "zero": false}, "axis": null}}},
   {"data": {"name": "B"}, "transform": [{"filter": {"field": "series", "equal": "Spectra without 820 nm artifact"}}], "mark": {"type": "line", "strokeWidth": 1.2},
    "encoding": {"x": {"field": "w", "type": "quantitative", "scale": {"domain": [250, 2750], "nice": false, "zero": false}, "axis": {"values": [500, 1000, 1500, 2000, 2500], "format": "d", "title": "Wavelength (nm)"}}, "y": {"field": "r", "type": "quantitative", "scale": {"domain": [0.06, 0.34], "nice": false, "zero": false}, "axis": {"values": [0.1, 0.15, 0.2, 0.25, 0.3], "format": ".2f", "title": "REFF (@30°)"}}}},
   {"data": {"name": "B"}, "transform": [{"filter": {"field": "series", "equal": "Spectra with 820 nm artifact"}}], "mark": {"type": "point", "filled": true, "size": 18, "opacity": 1},
    "encoding": {"x": {"field": "w", "type": "quantitative", "scale": {"domain": [250, 2750], "nice": false, "zero": false}, "axis": {"orient": "top", "values": [500, 1000, 1500, 2000, 2500], "labels": false, "title": null}}, "y": {"field": "r", "type": "quantitative", "scale": {"domain": [0.06, 0.34], "nice": false, "zero": false}, "axis": {"orient": "right", "values": [0.1, 0.15, 0.2, 0.25, 0.3], "labels": false, "title": null}}}},
   {"data": {"name": "B"}, "transform": [{"filter": {"field": "series", "equal": "Tie points for continuum estimate of 1000 nm absorption"}}], "mark": {"type": "point", "filled": false, "size": 95, "strokeWidth": 1.5, "opacity": 1},
    "encoding": {"x": {"field": "w", "type": "quantitative", "scale": {"domain": [250, 2750], "nice": false, "zero": false}, "axis": null}, "y": {"field": "r", "type": "quantitative", "scale": {"domain": [0.06, 0.34], "nice": false, "zero": false}, "axis": null}}},
   {"data": {"name": "B"}, "transform": [{"filter": {"field": "series", "equal": "Tie points for continuum estimate of 1000 nm absorption "}}], "mark": {"type": "point", "filled": true, "size": 125, "opacity": 1},
    "encoding": {"x": {"field": "w", "type": "quantitative", "scale": {"domain": [250, 2750], "nice": false, "zero": false}, "axis": null}, "y": {"field": "r", "type": "quantitative", "scale": {"domain": [0.06, 0.34], "nice": false, "zero": false}, "axis": null}}},
   {"data": {"name": "B"}, "transform": [{"filter": {"field": "series", "equal": "Tie points for continuum estimate of 2000 nm absorption"}}], "mark": {"type": "point", "filled": false, "size": 240, "strokeWidth": 1.6, "opacity": 1},
    "encoding": {"x": {"field": "w", "type": "quantitative", "scale": {"domain": [250, 2750], "nice": false, "zero": false}, "axis": null}, "y": {"field": "r", "type": "quantitative", "scale": {"domain": [0.06, 0.34], "nice": false, "zero": false}, "axis": null}}},
   {"data": {"values": [{"w": 713, "r": 0.1435, "lab": "s1"}]}, "mark": {"type": "text", "fontSize": 20, "align": "center", "baseline": "middle"},
    "encoding": {"x": {"field": "w", "type": "quantitative", "scale": {"domain": [250, 2750], "nice": false, "zero": false}, "axis": null}, "y": {"field": "r", "type": "quantitative", "scale": {"domain": [0.06, 0.34], "nice": false, "zero": false}, "axis": null}, "text": {"field": "lab"}, "color": {"value": "#2020e0"}}},
   {"data": {"values": [{"w": 1375, "r": 0.238, "lab": "s2"}]}, "mark": {"type": "text", "fontSize": 20, "align": "center", "baseline": "middle"},
    "encoding": {"x": {"field": "w", "type": "quantitative", "scale": {"domain": [250, 2750], "nice": false, "zero": false}, "axis": null}, "y": {"field": "r", "type": "quantitative", "scale": {"domain": [0.06, 0.34], "nice": false, "zero": false}, "axis": null}, "text": {"field": "lab"}, "color": {"value": "#ee22ee"}}},
   {"data": {"values": [{"w": 1676, "r": 0.226, "lab": "s3"}]}, "mark": {"type": "text", "fontSize": 20, "align": "center", "baseline": "middle"},
    "encoding": {"x": {"field": "w", "type": "quantitative", "scale": {"domain": [250, 2750], "nice": false, "zero": false}, "axis": null}, "y": {"field": "r", "type": "quantitative", "scale": {"domain": [0.06, 0.34], "nice": false, "zero": false}, "axis": null}, "text": {"field": "lab"}, "color": {"value": "#ff2a2a"}}},
   {"data": {"values": [{"w": 2700, "lab": "2700"}]}, "mark": {"type": "text", "fontSize": 20, "align": "center", "baseline": "alphabetic", "dy": -1},
    "encoding": {"x": {"field": "w", "type": "quantitative", "scale": {"domain": [250, 2750], "nice": false, "zero": false}, "axis": null}, "y": {"datum": 0.34, "type": "quantitative", "scale": {"domain": [0.06, 0.34], "nice": false, "zero": false}, "axis": null}, "text": {"field": "lab"}, "color": {"value": "#222222"}}}
  ]
 },
 {
  "width": 440, "height": 354,
  "title": {"text": "C", "dx": -124, "offset": -112},
  "resolve": {"axis": {"x": "independent", "y": "independent"}},
  "layer": [
   {"data": {"name": "Cmark"}, "mark": {"type": "rule", "strokeDash": [4, 3], "strokeWidth": 1.3},
    "encoding": {"x": {"field": "w", "type": "quantitative", "scale": {"domain": [300, 3000], "nice": false, "zero": false}, "axis": null},
     "stroke": {"field": "w", "type": "nominal", "scale": {"domain": [675, 725, 750, 1430, 1500, 1700, 2395, 2700], "range": ["#3a9a3a", "#4040ee", "#ee3030", "#4040ee", "#ee3030", "#3a9a3a", "#ff40ff", "#333333"]}, "legend": null}}},
   {"data": {"name": "C"}, "transform": [{"filter": {"field": "s", "equal": "15555 Clinopyroxene"}}], "mark": {"type": "line", "strokeWidth": 1.3},
    "encoding": {
     "x": {"field": "w", "type": "quantitative", "scale": {"domain": [300, 3000], "nice": false, "zero": false}, "axis": {"values": [500, 1000, 1500, 2000, 2500, 3000], "format": "d", "title": "Wavelength (nm)"}},
     "y": {"field": "r", "type": "quantitative", "scale": {"domain": [0.012, 0.7], "nice": false, "zero": false}, "axis": {"values": [0.1, 0.2, 0.3, 0.4, 0.5, 0.6, 0.7], "format": ".1f", "title": "Reflectance"}},
     "color": {"field": "s", "type": "nominal", "scale": {"domain": ["15555 Clinopyroxene", "15555 Olivine", "15058 Orthopyroxene/Pigeonite"], "range": ["#5a5a5a", "#ee4848", "#4a8fe0"]},
      "legend": {"orient": "none", "legendX": 208, "legendY": 11, "title": null, "labelFontSize": 20, "symbolType": "stroke", "symbolSize": 2025, "symbolStrokeWidth": 1.3, "clipHeight": 25, "rowPadding": 0, "padding": 2, "strokeColor": "#444", "fillColor": "white", "labelOffset": 6, "symbolOffset": 0, "labelLimit": 600}}}},
   {"data": {"name": "C"}, "transform": [{"filter": {"field": "s", "equal": "15555 Olivine"}}], "mark": {"type": "line", "strokeWidth": 1.3},
    "encoding": {
     "x": {"field": "w", "type": "quantitative", "scale": {"domain": [300, 3000], "nice": false, "zero": false}, "axis": {"values": [750, 1250, 1750, 2250, 2750], "labels": false, "title": null, "tickSize": -4}},
     "y": {"field": "r", "type": "quantitative", "scale": {"domain": [0.012, 0.7], "nice": false, "zero": false}, "axis": {"values": [0.05, 0.15, 0.25, 0.35, 0.45, 0.55, 0.65], "labels": false, "title": null, "tickSize": -4}},
     "color": {"field": "s", "type": "nominal", "scale": {"domain": ["15555 Clinopyroxene", "15555 Olivine", "15058 Orthopyroxene/Pigeonite"], "range": ["#5a5a5a", "#ee4848", "#4a8fe0"]}}}},
   {"data": {"name": "C"}, "transform": [{"filter": {"field": "s", "equal": "15058 Orthopyroxene/Pigeonite"}}], "mark": {"type": "line", "strokeWidth": 1.3},
    "encoding": {
     "x": {"field": "w", "type": "quantitative", "scale": {"domain": [300, 3000], "nice": false, "zero": false}, "axis": {"orient": "top", "values": [750, 1250, 1750, 2250, 2750], "labels": false, "title": null, "tickSize": -4}},
     "y": {"field": "r", "type": "quantitative", "scale": {"domain": [0.012, 0.7], "nice": false, "zero": false}, "axis": {"orient": "right", "values": [0.05, 0.15, 0.25, 0.35, 0.45, 0.55, 0.65], "labels": false, "title": null, "tickSize": -4}},
     "color": {"field": "s", "type": "nominal", "scale": {"domain": ["15555 Clinopyroxene", "15555 Olivine", "15058 Orthopyroxene/Pigeonite"], "range": ["#5a5a5a", "#ee4848", "#4a8fe0"]}}}},
   {"data": {"name": "Cmark"}, "mark": {"type": "text", "angle": 270, "align": "left", "baseline": "middle", "dx": 8, "fontSize": 20},
    "encoding": {
     "x": {"field": "w", "type": "quantitative", "scale": {"domain": [300, 3000], "nice": false, "zero": false}, "axis": {"orient": "top", "values": [500, 1000, 1500, 2000, 2500, 3000], "labels": false, "title": null}},
     "y": {"datum": 0.7, "type": "quantitative", "scale": {"domain": [0.012, 0.7], "nice": false, "zero": false}, "axis": {"orient": "right", "values": [0.1, 0.2, 0.3, 0.4, 0.5, 0.6, 0.7], "labels": false, "title": null}},
     "text": {"field": "lab"},
     "fill": {"field": "w", "type": "nominal", "scale": {"domain": [675, 725, 750, 1430, 1500, 1700, 2395, 2700], "range": ["#229922", "#2222ee", "#ee2222", "#2222ee", "#ee2222", "#229922", "#ff22ff", "#222222"]}, "legend": null}}}
  ]
 }
]
}
